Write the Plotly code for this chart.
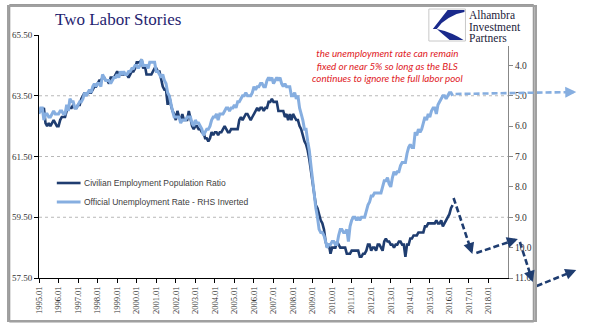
import plotly.graph_objects as go

# ---------------- data ----------------
start_year = 1995
years = list(range(1995, 2019))
tick_text = [f"{y}.01" for y in years]

# Civilian employment-population ratio, monthly Jan 1995 - Mar 2016
epop = [
    63.0, 63.0, 63.0, 63.1, 62.6, 62.5, 62.6, 62.5, 62.6, 62.7, 62.6, 62.5,   # 1995
    62.5, 62.7, 62.8, 62.8, 62.8, 63.0, 63.1, 63.1, 63.1, 63.2, 63.1, 63.1,   # 1996
    63.2, 63.2, 63.4, 63.5, 63.6, 63.5, 63.6, 63.6, 63.6, 63.7, 63.8, 63.8,   # 1997
    63.9, 64.0, 64.0, 64.1, 64.1, 64.0, 64.0, 63.9, 64.1, 64.1, 64.1, 64.2,   # 1998
    64.3, 64.2, 64.2, 64.2, 64.2, 64.2, 64.2, 64.1, 64.2, 64.3, 64.3, 64.4,   # 1999
    64.6, 64.6, 64.6, 64.7, 64.4, 64.5, 64.2, 64.2, 64.2, 64.2, 64.3, 64.4,   # 2000
    64.4, 64.3, 64.3, 64.0, 63.8, 63.7, 63.7, 63.2, 63.5, 63.2, 63.0, 62.9,   # 2001
    62.7, 63.0, 62.8, 62.7, 62.9, 62.7, 62.7, 62.7, 63.0, 62.7, 62.5, 62.4,   # 2002
    62.5, 62.5, 62.4, 62.4, 62.3, 62.3, 62.1, 62.1, 62.0, 62.1, 62.3, 62.2,   # 2003
    62.3, 62.3, 62.2, 62.3, 62.3, 62.4, 62.5, 62.4, 62.3, 62.3, 62.4, 62.4,   # 2004
    62.4, 62.4, 62.4, 62.7, 62.8, 62.7, 62.8, 62.9, 62.9, 62.8, 62.7, 62.8,   # 2005
    62.9, 63.0, 63.1, 63.0, 63.1, 63.1, 63.0, 63.1, 63.1, 63.3, 63.3, 63.4,   # 2006
    63.3, 63.3, 63.3, 63.0, 63.0, 63.0, 63.0, 62.8, 62.9, 62.7, 62.9, 62.7,   # 2007
    62.9, 62.8, 62.7, 62.7, 62.5, 62.4, 62.2, 62.0, 61.9, 61.7, 61.4, 61.0,   # 2008
    60.6, 60.3, 59.9, 59.8, 59.6, 59.4, 59.3, 59.1, 58.7, 58.5, 58.6, 58.3,   # 2009
    58.5, 58.5, 58.5, 58.7, 58.6, 58.5, 58.5, 58.5, 58.5, 58.3, 58.3, 58.3,   # 2010
    58.4, 58.4, 58.4, 58.4, 58.4, 58.2, 58.2, 58.3, 58.3, 58.4, 58.6, 58.6,   # 2011
    58.4, 58.5, 58.5, 58.4, 58.6, 58.6, 58.5, 58.4, 58.7, 58.8, 58.7, 58.7,   # 2012
    58.6, 58.6, 58.5, 58.6, 58.6, 58.7, 58.7, 58.6, 58.6, 58.2, 58.6, 58.6,   # 2013
    58.8, 58.8, 58.9, 58.9, 58.9, 59.0, 59.0, 59.0, 59.0, 59.2, 59.2, 59.3,   # 2014
    59.3, 59.3, 59.3, 59.3, 59.4, 59.3, 59.3, 59.4, 59.2, 59.3, 59.4, 59.5,   # 2015
    59.6, 59.8, 59.9,                                                          # 2016
]

# Official unemployment rate, monthly Jan 1995 - Mar 2016 (RHS, inverted)
unrate = [
    5.6, 5.4, 5.4, 5.8, 5.6, 5.6, 5.7, 5.7, 5.6, 5.5, 5.6, 5.6,   # 1995
    5.6, 5.5, 5.5, 5.6, 5.6, 5.3, 5.5, 5.1, 5.2, 5.2, 5.4, 5.4,   # 1996
    5.3, 5.2, 5.2, 5.1, 4.9, 5.0, 4.9, 4.8, 4.9, 4.7, 4.6, 4.7,   # 1997
    4.6, 4.6, 4.7, 4.3, 4.4, 4.5, 4.5, 4.5, 4.6, 4.5, 4.4, 4.4,   # 1998
    4.3, 4.4, 4.2, 4.3, 4.2, 4.3, 4.3, 4.2, 4.2, 4.1, 4.1, 4.0,   # 1999
    4.0, 4.1, 4.0, 3.8, 4.0, 4.0, 4.0, 4.1, 3.9, 3.9, 3.9, 3.9,   # 2000
    4.2, 4.2, 4.3, 4.4, 4.3, 4.5, 4.6, 4.9, 5.0, 5.3, 5.5, 5.7,   # 2001
    5.7, 5.7, 5.7, 5.9, 5.8, 5.8, 5.8, 5.7, 5.7, 5.7, 5.9, 6.0,   # 2002
    5.8, 5.9, 5.9, 6.0, 6.1, 6.3, 6.2, 6.1, 6.1, 6.0, 5.8, 5.7,   # 2003
    5.7, 5.6, 5.8, 5.6, 5.6, 5.6, 5.5, 5.4, 5.4, 5.5, 5.4, 5.4,   # 2004
    5.3, 5.4, 5.2, 5.2, 5.1, 5.0, 5.0, 4.9, 5.0, 5.0, 5.0, 4.9,   # 2005
    4.7, 4.8, 4.7, 4.7, 4.6, 4.6, 4.7, 4.7, 4.5, 4.4, 4.5, 4.4,   # 2006
    4.6, 4.5, 4.4, 4.5, 4.4, 4.6, 4.7, 4.6, 4.7, 4.7, 4.7, 5.0,   # 2007
    5.0, 4.9, 5.1, 5.0, 5.4, 5.6, 5.8, 6.1, 6.1, 6.5, 6.8, 7.3,   # 2008
    7.8, 8.3, 8.7, 9.0, 9.4, 9.5, 9.5, 9.6, 9.8, 10.0, 9.9, 9.9,  # 2009
    9.8, 9.8, 9.9, 9.9, 9.6, 9.4, 9.4, 9.5, 9.5, 9.4, 9.8, 9.3,   # 2010
    9.1, 9.0, 9.0, 9.1, 9.0, 9.1, 9.0, 9.0, 9.0, 8.8, 8.6, 8.5,   # 2011
    8.3, 8.3, 8.2, 8.2, 8.2, 8.2, 8.2, 8.0, 7.8, 7.8, 7.7, 7.9,   # 2012
    8.0, 7.7, 7.5, 7.6, 7.5, 7.5, 7.3, 7.2, 7.2, 7.2, 6.9, 6.7,   # 2013
    6.6, 6.7, 6.7, 6.2, 6.3, 6.1, 6.2, 6.1, 5.9, 5.7, 5.8, 5.6,   # 2014
    5.7, 5.5, 5.4, 5.4, 5.6, 5.3, 5.2, 5.1, 5.0, 5.0, 5.1, 5.0,   # 2015
    4.9, 4.9, 5.0,                                                 # 2016
]

left_ticks = [57.5, 59.5, 61.5, 63.5, 65.5]
left_text = ["57.50", "59.50", "61.50", "63.50", "65.50"]
right_ticks = [4, 5, 6, 7, 8, 9, 10, 11]
right_text = ["4.0", "5.0", "6.0", "7.0", "8.0", "9.0", "10.0", "11.0"]

# ---------------- layout geometry ----------------
W, H = 599, 333
ML, MR, MT, MB = 34, 91, 35, 55
PW, PH = W - ML - MR, H - MT - MB


def px(x):
    return (x - ML) / PW


def py(y):
    return (H - MB - y) / PH


DARK = "#1f3d70"
LIGHT = "#86aee0"

x_epop = [start_year + i / 12 for i in range(len(epop))]
x_un = [start_year + i / 12 for i in range(len(unrate))]

fig = go.Figure()
fig.add_trace(go.Scatter(x=x_epop, y=epop, mode="lines", yaxis="y",
                         name="Civilian Employment Population Ratio",
                         line=dict(color=DARK, width=2.6), showlegend=False))
fig.add_trace(go.Scatter(x=x_un, y=unrate, mode="lines", yaxis="y2",
                         name="Official Unemployment Rate - RHS Inverted",
                         line=dict(color=LIGHT, width=3), showlegend=False))

serif = "Liberation Serif"
shapes = []
annotations = []

# outer frame: four edge lines
fx0, fx1, fy0, fy1 = 4, 534, 5, 321.5
for (a, b, c, d) in [(fx0, fy0, fx1, fy0), (fx0, fy1, fx1, fy1),
                     (fx0, fy0, fx0, fy1), (fx1, fy0, fx1, fy1)]:
    shapes.append(dict(type="line", xref="paper", yref="paper",
                       x0=px(a), y0=py(b), x1=px(c), y1=py(d),
                       line=dict(color="#9a9a9a", width=2), layer="above"))

# frame also as a bordered (empty) annotation box
annotations.append(dict(text=" ", xref="paper", yref="paper",
                        x=px((fx0 + fx1) / 2), y=py((fy0 + fy1) / 2),
                        xanchor="center", yanchor="middle", showarrow=False,
                        width=fx1 - fx0 - 4, height=fy1 - fy0 - 4,
                        bordercolor="#a0a0a0", borderwidth=2, borderpad=0,
                        bgcolor="rgba(0,0,0,0)"))

# grid lines (dotted) at inner left ticks
for v in left_ticks[1:-1]:
    shapes.append(dict(type="line", xref="paper", yref="y", x0=0, x1=1, y0=v, y1=v,
                       line=dict(color="#b8b8b8", width=1, dash="dot"), layer="below"))

# legend (manual)
legend_items = [("Civilian Employment Population Ratio", DARK, 183, 2.6),
                ("Official Unemployment Rate - RHS Inverted", LIGHT, 202, 3)]
for txt, col, yy, wd in legend_items:
    shapes.append(dict(type="line", xref="paper", yref="paper",
                       x0=px(52), x1=px(76), y0=py(yy), y1=py(yy),
                       line=dict(color=col, width=wd)))
    annotations.append(dict(text=txt, xref="paper", yref="paper", x=px(77), y=py(yy),
                            xanchor="left", yanchor="middle", showarrow=False,
                            font=dict(family="Liberation Sans", size=8.5, color="#404040")))

# dashed projection arrows
arrows = [
    (LIGHT, (455, 94), (577, 92)),
    (DARK, (453, 198), (472, 254)),
    (DARK, (476, 253), (518, 239)),
    (DARK, (520, 242), (533, 282)),
    (DARK, (537, 286), (577, 270)),
]
for col, (x0, y0), (x1, y1) in arrows:
    dx, dy = x1 - x0, y1 - y0
    ln = (dx * dx + dy * dy) ** 0.5
    ux, uy = dx / ln, dy / ln
    shapes.append(dict(type="line", xref="paper", yref="paper",
                       x0=px(x0), y0=py(y0), x1=px(x1 - ux * 3), y1=py(y1 - uy * 3),
                       line=dict(color=col, width=2.6, dash="6px,3px")))
    annotations.append(dict(x=px(x1), y=py(y1), xref="paper", yref="paper",
                            ax=-ux * 7, ay=-uy * 7, showarrow=True, text="",
                            arrowhead=2, arrowsize=1, arrowwidth=2.2, arrowcolor=col,
                            standoff=0))

# title
annotations.append(dict(text="Two Labor Stories", xref="paper", yref="paper",
                        x=px(114), y=py(20), xanchor="center", yanchor="middle",
                        showarrow=False, font=dict(family=serif, size=17, color="#1f2470")))

# red comment
annotations.append(dict(text="<i>the unemployment rate can remain<br>fixed or near 5% so long as the BLS<br>"
                             "continues to ignore the full labor pool</i>",
                        xref="paper", yref="paper", x=px(386), y=py(65),
                        xanchor="center", yanchor="middle", align="center", showarrow=False,
                        font=dict(family="Lato", size=9.8, color="#e0201e")))

# logo
shapes.append(dict(type="rect", xref="paper", yref="paper",
                   x0=px(426), x1=px(532), y0=py(7), y1=py(46),
                   fillcolor="white", line=dict(width=0), layer="above"))
shapes.append(dict(type="rect", xref="paper", yref="paper",
                   x0=px(428), x1=px(465), y0=py(9), y1=py(41),
                   fillcolor="white", line=dict(color="#c8c8c8", width=1), layer="above"))


def pth(pts):
    s = "M " + " L ".join(f"{px(a):.5f},{py(b):.5f}" for a, b in pts) + " Z"
    return s


upper = [(447, 10), (464, 10), (464, 12), (456, 14), (448, 18), (441, 23), (436, 29), (432, 29)]
lower = [(436, 29), (444, 31), (452, 34), (458, 37), (463, 40), (449, 40), (443, 35)]
for p in (upper, lower):
    shapes.append(dict(type="path", xref="paper", yref="paper", path=pth(p),
                       fillcolor="#1a2a8c", line=dict(width=0), layer="above"))
for txt, yy in (("Alhambra", 15), ("Investment", 27), ("Partners", 38)):
    annotations.append(dict(text=txt, xref="paper", yref="paper", x=px(467), y=py(yy),
                            xanchor="left", yanchor="middle", showarrow=False,
                            font=dict(family=serif, size=11.5, color="#1c1c3a")))

fig.update_layout(
    width=W, height=H,
    margin=dict(l=ML, r=MR, t=MT, b=MB, pad=0),
    paper_bgcolor="white", plot_bgcolor="white",
    showlegend=False,
    xaxis=dict(range=[1995, 2019], tickmode="array", tickvals=years, ticktext=tick_text,
               tickangle=-90, ticks="outside", ticklen=4, tickcolor="#000",
               showline=True, linecolor="#000", linewidth=1, showgrid=False, zeroline=False,
               tickfont=dict(family=serif, size=8.5, color="#333")),
    yaxis=dict(range=[57.5, 65.5], tickmode="array", tickvals=left_ticks, ticktext=left_text,
               ticks="outside", ticklen=4, tickcolor="#000",
               showline=True, linecolor="#000", linewidth=1, showgrid=False, zeroline=False,
               tickfont=dict(family=serif, size=9, color="#333")),
    yaxis2=dict(range=[11, 3], overlaying="y", side="right", anchor="x",
                tickmode="array", tickvals=right_ticks, ticktext=right_text,
                ticks="outside", ticklen=4, tickcolor="#888",
                showline=True, linecolor="#888", linewidth=1, showgrid=False, zeroline=False,
                tickfont=dict(family=serif, size=9.5, color="#333")),
    shapes=shapes,
    annotations=annotations,
)

fig.write_html("out.html")
